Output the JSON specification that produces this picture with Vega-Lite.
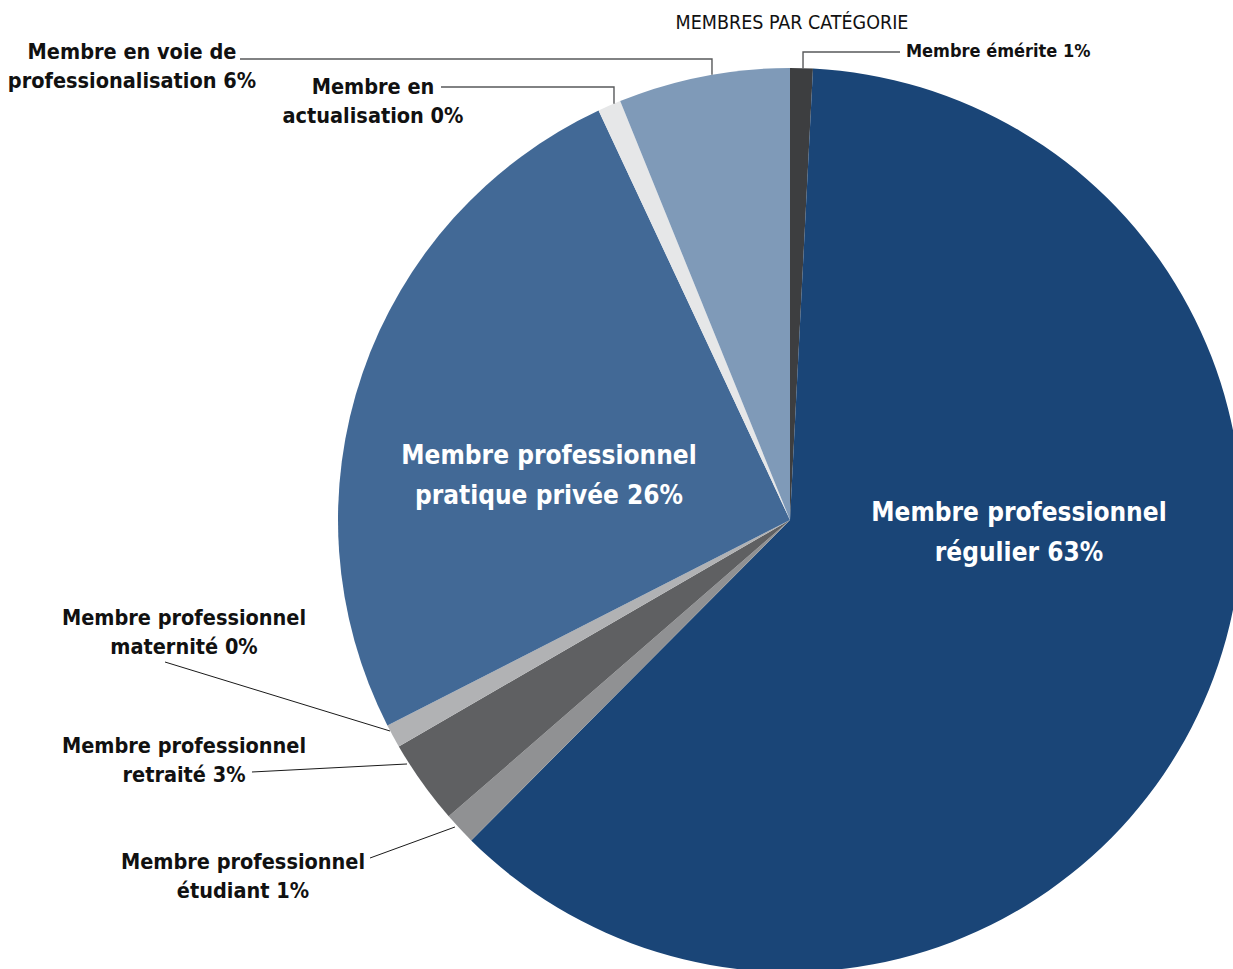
{
  "$schema": "https://vega.github.io/schema/vega-lite/v6.json",
  "width": 904,
  "height": 904,
  "autosize": "none",
  "padding": {"left": 338, "top": 68, "right": 0, "bottom": 0},
  "background": "white",
  "config": {"view": {"stroke": null}},
  "datasets": {
    "slices": [
      {"idx": 1, "category": "Membre émérite", "value": 0.81},
      {"idx": 2, "category": "Membre professionnel régulier", "value": 61.65},
      {"idx": 3, "category": "Membre professionnel étudiant", "value": 1.16},
      {"idx": 4, "category": "Membre professionnel retraité", "value": 3.03},
      {"idx": 5, "category": "Membre professionnel maternité", "value": 0.84},
      {"idx": 6, "category": "Membre professionnel pratique privée", "value": 25.55},
      {"idx": 7, "category": "Membre en actualisation", "value": 0.83},
      {"idx": 8, "category": "Membre en voie de professionalisation", "value": 6.13}
    ],
    "leaders": [
      {"category": "Membre émérite", "step": 1, "x": 0.0288, "y": 0.9990},
      {"category": "Membre émérite", "step": 2, "x": 0.0288, "y": 1.0354},
      {"category": "Membre émérite", "step": 3, "x": 0.2434, "y": 1.0354},
      {"category": "Membre en voie de professionalisation", "step": 1, "x": -1.2168, "y": 1.0199},
      {"category": "Membre en voie de professionalisation", "step": 2, "x": -0.1726, "y": 1.0199},
      {"category": "Membre en voie de professionalisation", "step": 3, "x": -0.1726, "y": 0.9850},
      {"category": "Membre en actualisation", "step": 1, "x": -0.7721, "y": 0.9580},
      {"category": "Membre en actualisation", "step": 2, "x": -0.3894, "y": 0.9580},
      {"category": "Membre en actualisation", "step": 3, "x": -0.3894, "y": 0.9210},
      {"category": "Membre professionnel maternité", "step": 1, "x": -1.3827, "y": -0.3142},
      {"category": "Membre professionnel maternité", "step": 2, "x": -0.8850, "y": -0.4668},
      {"category": "Membre professionnel retraité", "step": 1, "x": -1.1903, "y": -0.5575},
      {"category": "Membre professionnel retraité", "step": 2, "x": -0.8473, "y": -0.5398},
      {"category": "Membre professionnel étudiant", "step": 1, "x": -0.9292, "y": -0.7478},
      {"category": "Membre professionnel étudiant", "step": 2, "x": -0.7412, "y": -0.6792}
    ],
    "labels": [
      {"category": "Titre", "place": "title", "label": "MEMBRES PAR CATÉGORIE", "x": 0.0044, "y": 1.0985},
      {"category": "Membre émérite", "place": "small", "label": "Membre émérite 1%", "x": 0.2566, "y": 1.0354},
      {"category": "Membre en voie de professionalisation", "place": "outside", "label": "Membre en voie de\nprofessionalisation 6%", "x": -1.4558, "y": 1.0332},
      {"category": "Membre en actualisation", "place": "outside", "label": "Membre en\nactualisation 0%", "x": -0.9226, "y": 0.9558},
      {"category": "Membre professionnel maternité", "place": "outside", "label": "Membre professionnel\nmaternité 0%", "x": -1.3407, "y": -0.2190},
      {"category": "Membre professionnel retraité", "place": "outside", "label": "Membre professionnel\nretraité 3%", "x": -1.3407, "y": -0.5022},
      {"category": "Membre professionnel étudiant", "place": "outside", "label": "Membre professionnel\nétudiant 1%", "x": -1.2102, "y": -0.7588},
      {"category": "Membre professionnel pratique privée", "place": "inside", "label": "Membre professionnel\npratique privée 26%", "x": -0.5332, "y": 0.1416},
      {"category": "Membre professionnel régulier", "place": "inside", "label": "Membre professionnel\nrégulier 63%", "x": 0.5066, "y": 0.0155}
    ]
  },
  "layer": [
    {
      "data": {"name": "slices"},
      "mark": {"type": "arc"},
      "encoding": {
        "theta": {"field": "value", "type": "quantitative", "stack": true},
        "order": {"field": "idx", "type": "quantitative"},
        "color": {
          "field": "category",
          "type": "nominal",
          "legend": null,
          "scale": {
            "domain": ["Membre émérite", "Membre professionnel régulier", "Membre professionnel étudiant", "Membre professionnel retraité", "Membre professionnel maternité", "Membre professionnel pratique privée", "Membre en actualisation", "Membre en voie de professionalisation"],
            "range": ["#3d3e40", "#1a4577", "#909193", "#5f6062", "#b1b2b4", "#426996", "#e6e7e8", "#7f9ab8"]
          }
        }
      }
    },
    {
      "data": {"name": "leaders"},
      "transform": [{"filter": {"field": "category", "oneOf": ["Membre émérite", "Membre en voie de professionalisation", "Membre en actualisation"]}}],
      "mark": {"type": "line", "color": "#58595b", "strokeWidth": 1.4},
      "encoding": {
        "x": {"field": "x", "type": "quantitative", "axis": null, "scale": {"domain": [-1, 1], "nice": false, "zero": false}},
        "y": {"field": "y", "type": "quantitative", "axis": null, "scale": {"domain": [-1, 1], "nice": false, "zero": false}},
        "detail": {"field": "category"},
        "order": {"field": "step", "type": "quantitative"}
      }
    },
    {
      "data": {"name": "leaders"},
      "transform": [{"filter": {"not": {"field": "category", "oneOf": ["Membre émérite", "Membre en voie de professionalisation", "Membre en actualisation"]}}}],
      "mark": {"type": "line", "color": "#1a1a1a", "strokeWidth": 1},
      "encoding": {
        "x": {"field": "x", "type": "quantitative"},
        "y": {"field": "y", "type": "quantitative"},
        "detail": {"field": "category"},
        "order": {"field": "step", "type": "quantitative"}
      }
    },
    {
      "data": {"name": "labels"},
      "transform": [{"filter": "datum.place === 'title'"}],
      "mark": {"type": "text", "align": "center", "baseline": "middle", "font": "DejaVu Sans Condensed, sans-serif", "fontWeight": "normal", "fontSize": 19.5, "color": "#111111"},
      "encoding": {
        "x": {"field": "x", "type": "quantitative"},
        "y": {"field": "y", "type": "quantitative"},
        "text": {"field": "label"}
      }
    },
    {
      "data": {"name": "labels"},
      "transform": [{"filter": "datum.place === 'outside'"}],
      "mark": {"type": "text", "lineBreak": "\n", "align": "center", "baseline": "middle", "font": "DejaVu Sans Condensed, sans-serif", "fontWeight": "bold", "fontSize": 21.5, "lineHeight": 29, "color": "#111111"},
      "encoding": {
        "x": {"field": "x", "type": "quantitative"},
        "y": {"field": "y", "type": "quantitative"},
        "text": {"field": "label"}
      }
    },
    {
      "data": {"name": "labels"},
      "transform": [{"filter": "datum.place === 'small'"}],
      "mark": {"type": "text", "align": "left", "baseline": "middle", "font": "DejaVu Sans Condensed, sans-serif", "fontWeight": "bold", "fontSize": 18, "color": "#111111"},
      "encoding": {
        "x": {"field": "x", "type": "quantitative"},
        "y": {"field": "y", "type": "quantitative"},
        "text": {"field": "label"}
      }
    },
    {
      "data": {"name": "labels"},
      "transform": [{"filter": "datum.place === 'inside'"}],
      "mark": {"type": "text", "lineBreak": "\n", "align": "center", "baseline": "middle", "font": "DejaVu Sans Condensed, sans-serif", "fontWeight": "bold", "fontSize": 26, "lineHeight": 40, "color": "#ffffff"},
      "encoding": {
        "x": {"field": "x", "type": "quantitative"},
        "y": {"field": "y", "type": "quantitative"},
        "text": {"field": "label"}
      }
    }
  ]
}
